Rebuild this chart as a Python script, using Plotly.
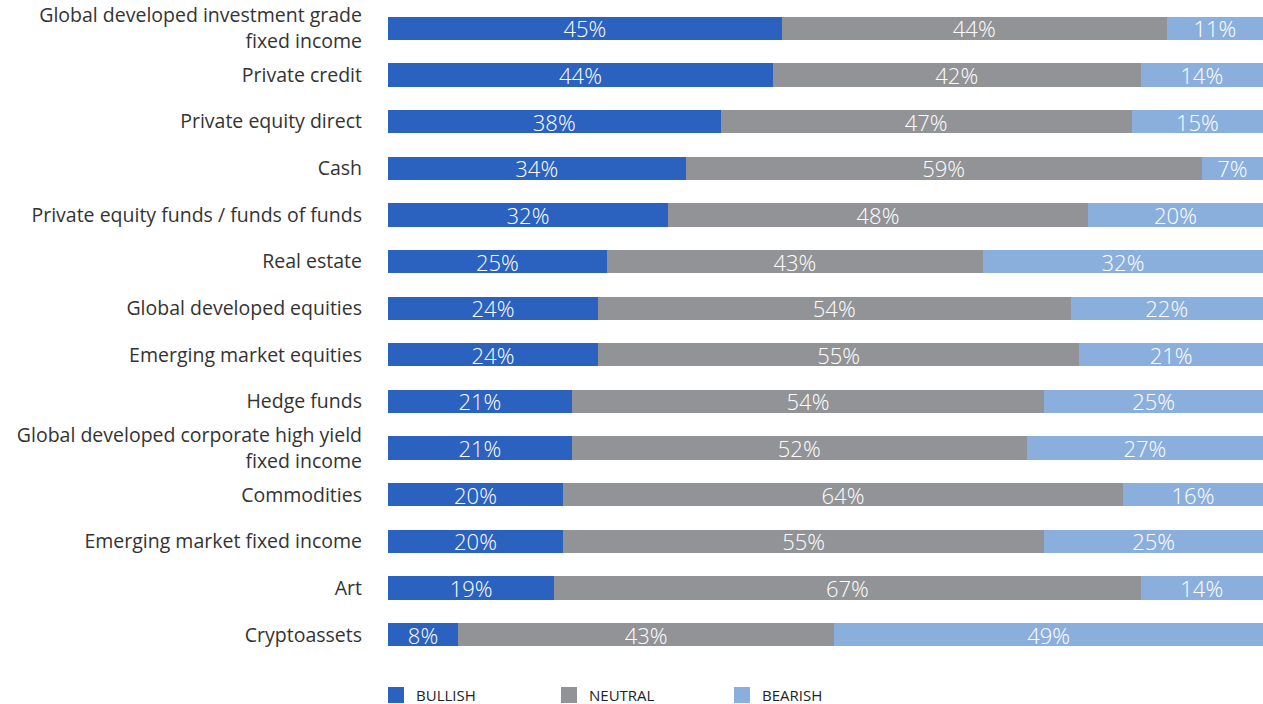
import plotly.graph_objects as go

categories = [
    "Global developed investment grade<br>fixed income",
    "Private credit",
    "Private equity direct",
    "Cash",
    "Private equity funds / funds of funds",
    "Real estate",
    "Global developed equities",
    "Emerging market equities",
    "Hedge funds",
    "Global developed corporate high yield<br>fixed income",
    "Commodities",
    "Emerging market fixed income",
    "Art",
    "Cryptoassets",
]
bullish = [45, 44, 38, 34, 32, 25, 24, 24, 21, 21, 20, 20, 19, 8]
neutral = [44, 42, 47, 59, 48, 43, 54, 55, 54, 52, 64, 55, 67, 43]
bearish = [11, 14, 15, 7, 20, 32, 22, 21, 25, 27, 16, 25, 14, 49]

series = [
    ("BULLISH", bullish, "#2c62bf"),
    ("NEUTRAL", neutral, "#929397"),
    ("BEARISH", bearish, "#8bafdc"),
]

FONT = "Open Sans"

fig = go.Figure()
for name, vals, color in series:
    fig.add_trace(go.Bar(
        y=categories,
        x=vals,
        name=name,
        orientation="h",
        marker=dict(color=color, line=dict(width=0)),
        text=[f"{v}%" for v in vals],
        textposition="inside",
        insidetextanchor="middle",
        textfont=dict(color="white", size=22, family=FONT, weight=300),
        hoverinfo="skip",
        showlegend=False,
    ))
    # square legend key
    fig.add_trace(go.Scatter(
        x=[None], y=[None],
        mode="markers",
        name=name,
        marker=dict(symbol="square", size=16, color=color, line=dict(width=0)),
        hoverinfo="skip",
    ))

fig.update_layout(
    barmode="stack",
    bargap=0.5,
    width=1263,
    height=704,
    margin=dict(l=388, r=0, t=5, b=46, autoexpand=False),
    plot_bgcolor="white",
    paper_bgcolor="white",
    font=dict(family=FONT, color="#333333"),
    uniformtext=dict(minsize=22, mode="show"),
    xaxis=dict(range=[0, 100], visible=False, fixedrange=True),
    yaxis=dict(
        autorange="reversed",
        showgrid=False,
        zeroline=False,
        showline=False,
        ticks="",
        ticklabelstandoff=25,
        tickfont=dict(size=19.5, color="#333333", family=FONT),
    ),
    legend=dict(
        orientation="h",
        traceorder="normal",
        x=-12 / 875,
        xanchor="left",
        y=-0.057,
        yanchor="middle",
        entrywidth=128,
        entrywidthmode="pixels",
        font=dict(size=15, color="#222222", family=FONT, weight=500),
        itemclick=False,
        itemdoubleclick=False,
    ),
    showlegend=True,
)

fig.write_html("out.html")
